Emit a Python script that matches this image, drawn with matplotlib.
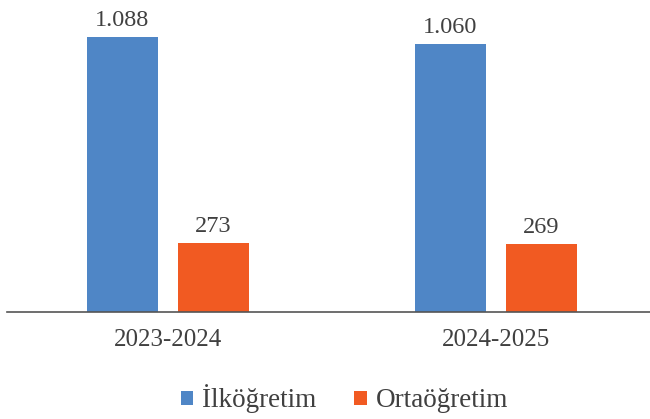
import numpy as np
import matplotlib
matplotlib.use("Agg")
import matplotlib.pyplot as plt

# Data
years = ["2023-2024", "2024-2025"]
ilkogretim = [1088, 1060]
ortaogretim = [273, 269]
series_names = ["İlköğretim", "Ortaöğretim"]

blue = "#4F86C6"
orange = "#F15A22"
text_col = "#404040"

plt.rcParams["font.family"] = ["Liberation Serif", "DejaVu Serif"]

fig = plt.figure(figsize=(6.5, 4.19), dpi=100)
ax = fig.add_axes([0.011, 0.255, 0.989, 0.725])

x = np.arange(len(years))
w = 0.216
off = 0.139
b1 = ax.bar(x - off, ilkogretim, w, color=blue, label=series_names[0])
b2 = ax.bar(x + off, ortaogretim, w, color=orange, label=series_names[1])

for bars, vals in ((b1, ilkogretim), (b2, ortaogretim)):
    for rect, v in zip(bars, vals):
        lab = f"{v:,}".replace(",", ".")
        ax.text(rect.get_x() + rect.get_width() / 2, v + 22, lab,
                ha="center", va="bottom", fontsize=17.5, color=text_col)

ax.set_xlim(-0.49, 1.47)
ax.set_ylim(0, 1200)
ax.set_xticks(x)
ax.set_xticklabels(years, fontsize=18, color=text_col)
ax.tick_params(axis="x", length=0, pad=12)
ax.set_yticks([])
for s in ("top", "right", "left"):
    ax.spines[s].set_visible(False)
ax.spines["bottom"].set_color("#555555")
ax.spines["bottom"].set_linewidth(1.2)

fig.legend(loc="lower center", bbox_to_anchor=(0.53, -0.045), ncol=2,
           frameon=False, fontsize=19.5, handlelength=0.45, handleheight=0.45,
           columnspacing=1.4, handletextpad=0.35, labelcolor=text_col)

fig.savefig("out.png", dpi=100)
